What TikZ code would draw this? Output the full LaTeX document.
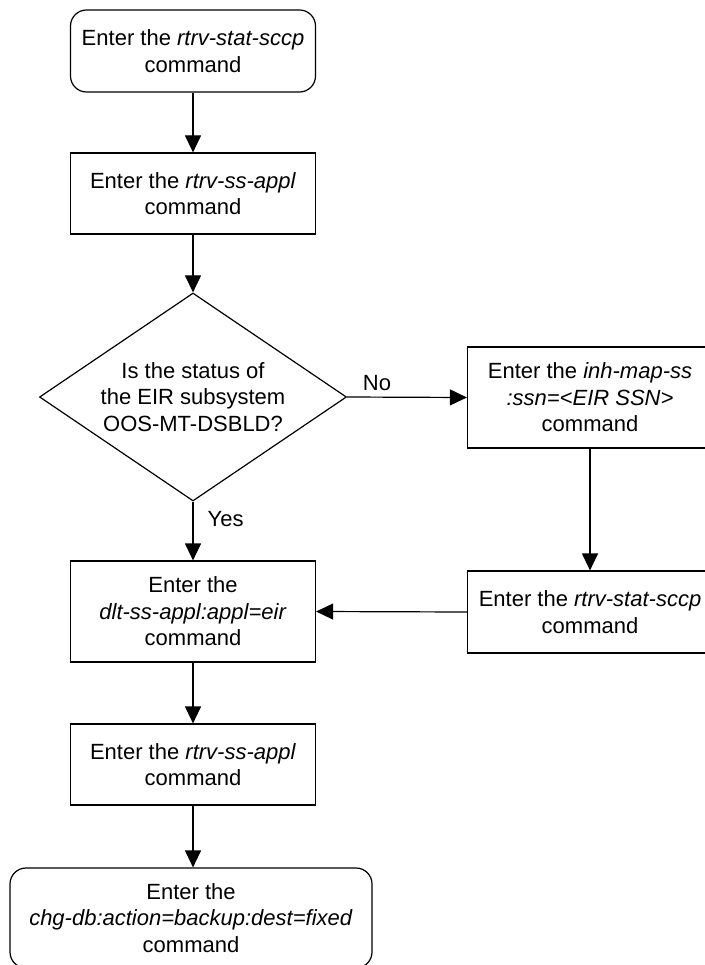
\documentclass[tikz,border=0pt]{standalone}
\usepackage{fontspec}
\setmainfont{Liberation Sans}
\usetikzlibrary{arrows.meta,shapes.geometric}
\tikzset{
  base/.style={draw=black, line width=1.2pt, align=center, inner sep=0pt,
    font=\fontsize{22}{26.5}\selectfont},
  procbox/.style={base, rectangle, minimum width=245pt},
  termbox/.style={base, rectangle, rounded corners=16pt},
  decbox/.style={base, diamond, minimum width=307pt, minimum height=208pt},
  conn/.style={line width=1.2pt, -{Triangle[length=17pt,width=16pt]}},
  lbl/.style={font=\fontsize{22}{26.5}\selectfont, inner sep=0pt}
}
\begin{document}
\begin{tikzpicture}[x=1pt,y=-1pt]
\useasboundingbox (0,0) rectangle (704,965);
\node[termbox, minimum width=245pt, minimum height=82pt] (t1) at (193,51)
  {Enter the \textit{rtrv-stat-sccp}\\command};
\node[procbox, minimum height=81pt] (b2) at (193,193.5)
  {Enter the \textit{rtrv-ss-appl}\\command};
\node[decbox, label={[lbl, align=center]center:Is the status of\\the EIR subsystem\\OOS-MT-DSBLD?}] (d1) at (193,397) {};
\node[procbox, minimum height=101pt] (r1) at (590,397.5)
  {Enter the \textit{inh-map-ss}\\\textit{:ssn=<EIR SSN>}\\command};
\node[procbox, minimum height=82pt] (r2) at (590,612)
  {Enter the \textit{rtrv-stat-sccp}\\command};
\node[procbox, minimum height=101pt] (b3) at (193,611.5)
  {Enter the\\\textit{dlt-ss-appl:appl=eir}\\command};
\node[procbox, minimum height=81pt] (b4) at (193,764.5)
  {Enter the \textit{rtrv-ss-appl}\\command};
\node[termbox, minimum width=362pt, minimum height=100pt] (t2) at (191,918)
  {Enter the\\\textit{chg-db:action=backup:dest=fixed}\\command};

\draw[conn] (t1) -- (b2);
\draw[conn] (b2) -- (d1);
\draw[conn] (d1.south) -- (b3.north) node[lbl, pos=0.3, anchor=west, xshift=14pt] (yes) {Yes};
\draw[conn] (d1.east) -- (r1.west) node[lbl, pos=0.25, anchor=south, yshift=6pt] (no) {No};
\draw[conn] (r1.south) -- (r2.north);
\draw[conn] (r2.west) -- (b3.east);
\draw[conn] (b3) -- (b4);
\draw[conn] (b4.south) -- (b4.south |- t2.north);
\end{tikzpicture}
\end{document}
